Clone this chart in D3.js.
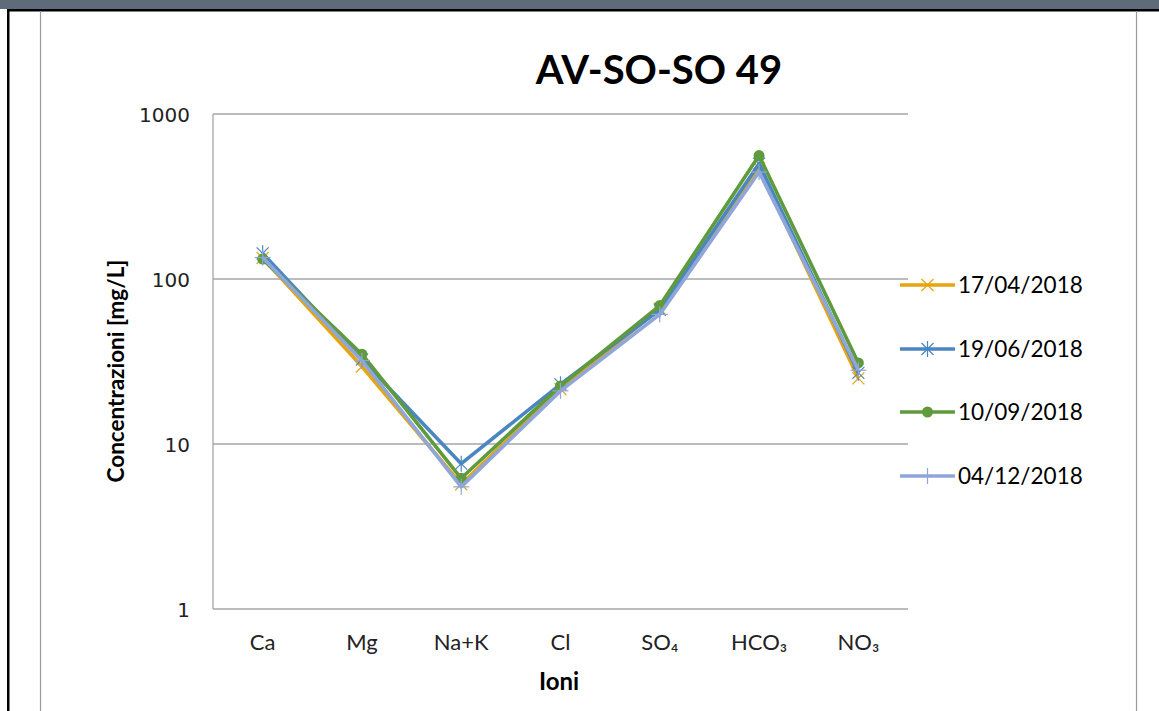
<!DOCTYPE html>
<html><head><meta charset="utf-8">
<script src="https://cdn.jsdelivr.net/npm/d3@7"></script>
<style>
html,body{margin:0;padding:0;background:#fff;}
svg{display:block;}
</style></head>
<body>
<svg id="chart" width="1159" height="711"></svg>
<script>
const categories = ["Ca","Mg","Na+K","Cl","SO₄","HCO₃","NO₃"];
const seriesNames = ["17/04/2018","19/06/2018","10/09/2018","04/12/2018"];
const s1704 = [134, 29.5, 5.7, 21.5, 66, 470, 25];
const s1906 = [143, 32.5, 7.6, 23, 65, 500, 27];
const s1009 = [132, 35, 6.2, 22.5, 69, 560, 31];
const s0412 = [135, 32, 5.5, 21, 61, 445, 28];
const yTicks = [1, 10, 100, 1000];
const title = "AV-SO-SO 49";
const yTitle = "Concentrazioni [mg/L]";
const xTitle = "Ioni";

const colors = ["#E5A50E", "#4A86C0", "#5F9A3C", "#8EA6DA"];
const markers = ["x", "asterisk", "circle", "plus"];
const seriesValues = [s1704, s1906, s1009, s0412];

const svg = d3.select("#chart");
const W = 1159, H = 711;

// frame
svg.append("rect").attr("x",0).attr("y",0).attr("width",W).attr("height",9).attr("fill","#5D6B7B");
svg.append("rect").attr("x",7).attr("y",9).attr("width",W-7).attr("height",2.5).attr("fill","#000");
svg.append("rect").attr("x",7).attr("y",9).attr("width",2.5).attr("height",H-9).attr("fill","#000");
svg.append("line").attr("x1",40.5).attr("x2",40.5).attr("y1",11).attr("y2",H).attr("stroke","#9a9a9a").attr("stroke-width",1.2);
svg.append("line").attr("x1",1136.5).attr("x2",1136.5).attr("y1",11).attr("y2",H).attr("stroke","#9a9a9a").attr("stroke-width",1.2);

const x = d3.scaleBand().domain(categories).range([213, 908]);
const y = d3.scaleLog().domain([1, 1000]).range([609, 114]);

// gridlines
const gridG = svg.append("g");
gridG.selectAll("line").data(yTicks).join("line")
  .attr("x1", 213).attr("x2", 908)
  .attr("y1", d => y(d)).attr("y2", d => y(d))
  .attr("stroke", "#a6a6a6").attr("stroke-width", 1.3);
gridG.append("line").attr("x1",213).attr("x2",213).attr("y1",y(1000)).attr("y2",y(1))
  .attr("stroke","#a6a6a6").attr("stroke-width",1.3);

// y axis labels
const yAxis = d3.axisLeft(y).tickValues(yTicks).tickFormat(d3.format("d")).tickSize(0).tickPadding(23);
const yg = svg.append("g").attr("transform","translate(213,0)").call(yAxis);
yg.select(".domain").remove();
yg.selectAll("text").attr("font-family","'DejaVu Sans', sans-serif").attr("font-size",20).attr("fill","#222").attr("dy","0.35em");

// x axis labels
const xAxis = d3.axisBottom(x).tickSize(0).tickPadding(25);
const xg = svg.append("g").attr("transform","translate(0,609)").call(xAxis);
xg.select(".domain").remove();
xg.selectAll("text").attr("font-family","Lato, 'Open Sans', sans-serif").attr("font-size",22).attr("fill","#222");

// titles
svg.append("text").attr("x",659).attr("y",84).attr("text-anchor","middle")
  .attr("font-family","Lato, 'Open Sans', sans-serif").attr("font-weight","bold").attr("font-size",40).attr("fill","#000").text(title);
svg.append("text").attr("transform","translate(124,371) rotate(-90)").attr("text-anchor","middle")
  .attr("font-family","Lato, 'Open Sans', sans-serif").attr("font-weight","bold").attr("font-size",22.5).attr("fill","#000").text(yTitle);
svg.append("text").attr("x",559).attr("y",690).attr("text-anchor","middle")
  .attr("font-family","Lato, 'Open Sans', sans-serif").attr("font-weight","bold").attr("font-size",24).attr("fill","#000").text(xTitle);

function drawMarker(g, type, color, cx, cy) {
  const s = 6;
  if (type === "x" || type === "asterisk") {
    g.append("line").attr("x1",cx-s).attr("y1",cy-s).attr("x2",cx+s).attr("y2",cy+s).attr("stroke",color).attr("stroke-width",1.2);
    g.append("line").attr("x1",cx-s).attr("y1",cy+s).attr("x2",cx+s).attr("y2",cy-s).attr("stroke",color).attr("stroke-width",1.2);
  }
  if (type === "asterisk" || type === "plus") {
    g.append("line").attr("x1",cx).attr("y1",cy-s-2).attr("x2",cx).attr("y2",cy+s+2).attr("stroke",color).attr("stroke-width",1.2);
  }
  if (type === "plus") {
    g.append("line").attr("x1",cx-s-2).attr("y1",cy).attr("x2",cx+s+2).attr("y2",cy).attr("stroke",color).attr("stroke-width",1.2);
  }
  if (type === "circle") {
    g.append("circle").attr("cx",cx).attr("cy",cy).attr("r",5.5).attr("fill",color);
  }
}

const line = d3.line().x((d,i) => x(categories[i]) + x.bandwidth()/2).y(d => y(d));
seriesValues.forEach((vals, si) => {
  const g = svg.append("g");
  g.append("path").attr("d", line(vals)).attr("fill","none").attr("stroke",colors[si])
    .attr("stroke-width",3.6).attr("stroke-linejoin","round");
  vals.forEach((v,i) => drawMarker(g, markers[si], colors[si], x(categories[i]) + x.bandwidth()/2, y(v)));
});

// legend
const legendY = [285, 349, 412, 476];
seriesNames.forEach((name, si) => {
  const g = svg.append("g");
  const ly = legendY[si];
  g.append("line").attr("x1",900).attr("x2",955).attr("y1",ly).attr("y2",ly).attr("stroke",colors[si]).attr("stroke-width",3.6);
  drawMarker(g, markers[si], colors[si], 927.5, ly);
  g.append("text").attr("x",958).attr("y",ly).attr("dy","0.35em")
    .attr("font-family","Lato, 'Open Sans', sans-serif").attr("font-size",22.5).attr("fill","#000").text(name);
});
</script>
</body></html>
